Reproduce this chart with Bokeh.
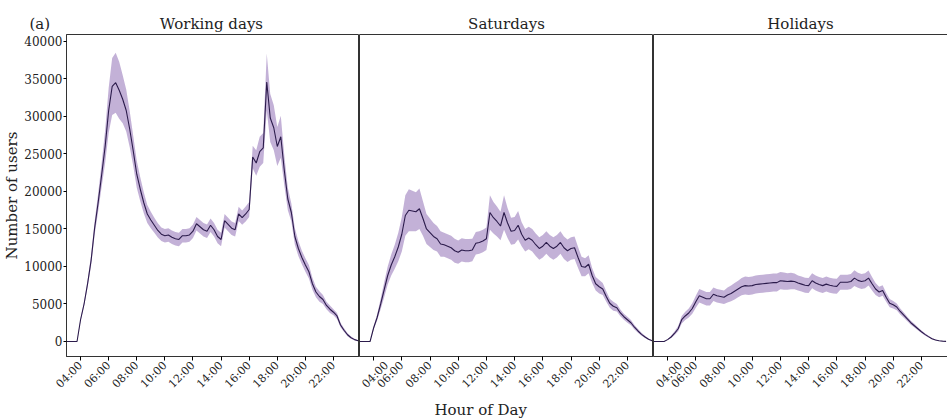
import numpy as np
from math import pi
from bokeh.plotting import figure
from bokeh.layouts import row
from bokeh.models import Range1d, FixedTicker, Title
from bokeh.embed import file_html
from bokeh.resources import INLINE

# time grid (hours of day, 15-minute steps)
hours = np.arange(3, 24, 0.25)

panel_letter = "(a)"
panel_titles = ["Working days", "Saturdays", "Holidays"]
tick_hours = [4, 6, 8, 10, 12, 14, 16, 18, 20, 22]
tick_labels = ["04:00", "06:00", "08:00", "10:00", "12:00", "14:00", "16:00", "18:00", "20:00", "22:00"]
y_ticks = [0, 5000, 10000, 15000, 20000, 25000, 30000, 35000, 40000]

working_mean = [0, 0, 0, 0,
                2900, 5000, 7700, 10800,
                15100, 18500, 22200, 26000,
                30800, 34000, 34500, 33500,
                32300, 30800, 28300, 25400,
                22300, 20300, 18500, 17000,
                16200, 15500, 14800, 14300,
                14100, 14200, 13900, 13700,
                13600, 14100, 14100, 14200,
                14700, 15700, 15300, 14900,
                14700, 15500, 14900, 14000,
                13600, 16100, 15600, 15100,
                14900, 17000, 16500, 17000,
                17600, 24600, 23800, 25300,
                25800, 34600, 29800, 28500,
                26000, 27300, 22800, 19000,
                17200, 14000, 12400, 11200,
                10200, 9300, 7700, 6600,
                6000, 5600, 4800, 4300,
                3900, 3400, 2200, 1500,
                900, 500, 250, 100]
working_spread = [0, 0, 0, 0,
                  200, 300, 500, 700,
                  900, 1200, 1600, 2200,
                  3000, 3800, 4000, 3800,
                  3200, 2800, 2400, 2000,
                  1800, 1600, 1400, 1200,
                  1100, 1000, 950, 900,
                  900, 900, 900, 900,
                  900, 900, 900, 900,
                  900, 900, 900, 900,
                  900, 900, 900, 900,
                  900, 900, 900, 900,
                  900, 950, 950, 1000,
                  1000, 1500, 1700, 2000,
                  2000, 3800, 3200, 3000,
                  2600, 2800, 2000, 1500,
                  1200, 1100, 1000, 900,
                  900, 900, 800, 700,
                  700, 600, 500, 500,
                  400, 400, 300, 250,
                  200, 150, 100, 50]

saturday_mean = [0, 0, 0, 0,
                 1800, 3200, 5000, 6900,
                 8800, 10200, 11300, 12600,
                 14300, 16800, 17500, 17400,
                 17300, 17700, 16400, 15000,
                 14500, 14000, 13700, 13000,
                 12900, 12700, 12500, 12100,
                 11900, 12200, 12100, 12100,
                 12200, 13100, 13200, 13400,
                 13700, 17200, 16500, 16000,
                 15400, 17200, 15800, 14700,
                 14800, 15500, 14300, 13500,
                 13800, 13500, 12900, 12400,
                 12700, 13200, 12700, 12400,
                 12700, 13200, 12500, 12100,
                 12400, 12500, 11200, 10000,
                 9900, 10300, 8800, 7700,
                 7300, 7000, 6000, 5100,
                 4700, 4500, 3800, 3300,
                 2900, 2500, 1900, 1400,
                 950, 600, 300, 100]
saturday_spread = [0, 0, 0, 0,
                   200, 400, 700, 1000,
                   1200, 1400, 1600, 1900,
                   2300, 2700, 2800, 2700,
                   2600, 2700, 2300, 2000,
                   1900, 1800, 1700, 1700,
                   1600, 1600, 1600, 1600,
                   1550, 1550, 1550, 1550,
                   1500, 1500, 1500, 1500,
                   1500, 2300, 2100, 2000,
                   1900, 2300, 2000, 1800,
                   1800, 1900, 1600, 1500,
                   1500, 1500, 1500, 1500,
                   1500, 1500, 1500, 1500,
                   1500, 1500, 1500, 1500,
                   1500, 1500, 1400, 1300,
                   1200, 1200, 1000, 900,
                   900, 800, 700, 600,
                   600, 500, 450, 400,
                   400, 350, 300, 250,
                   200, 150, 100, 50]

holiday_mean = [0, 0, 0, 0,
                250, 600, 1100, 1700,
                2900, 3400, 3800, 4400,
                5300, 6100, 5900, 5700,
                5700, 6300, 6100, 6000,
                5900, 6200, 6400, 6700,
                7000, 7300, 7450, 7400,
                7450, 7600, 7650, 7700,
                7750, 7800, 7850, 7850,
                8100, 8050, 8000, 8050,
                8000, 7800, 7650, 7500,
                7450, 8100, 7800, 7600,
                7450, 7650, 7500, 7400,
                7350, 7900, 7900, 7900,
                8000, 8450, 8150, 8000,
                8100, 8450, 7700, 7000,
                6600, 6800, 5900, 5100,
                4900, 4600, 4000, 3500,
                3000, 2500, 2100, 1700,
                1300, 950, 650, 380,
                200, 100, 50, 20]
holiday_spread = [0, 0, 0, 0,
                  50, 150, 250, 350,
                  500, 550, 600, 700,
                  800, 900, 900, 900,
                  900, 900, 900, 900,
                  900, 1000, 1050, 1100,
                  1100, 1150, 1200, 1200,
                  1200, 1200, 1200, 1200,
                  1200, 1200, 1200, 1200,
                  1150, 1150, 1100, 1100,
                  1050, 1000, 1000, 1000,
                  1000, 1000, 1000, 1000,
                  1000, 1000, 1000, 1000,
                  1000, 1000, 1000, 1000,
                  1000, 1050, 1000, 1000,
                  1000, 1000, 900, 800,
                  700, 700, 600, 550,
                  500, 450, 400, 350,
                  300, 280, 250, 200,
                  180, 150, 120, 80,
                  50, 30, 20, 10]

means = [working_mean, saturday_mean, holiday_mean]
spreads = [working_spread, saturday_spread, holiday_spread]

FONT = "DejaVu Serif"
TXT = "#222222"
LINE_C = "#2b1b4b"
FILL_C = "#6a3d9a"
NBSP = "\u00a0"

figs = []
for i in range(3):
    p = figure(frame_width=293 if i == 0 else 294, frame_height=322,
               x_range=Range1d(3, 23.85), y_range=Range1d(-2000, 40930),
               output_backend="svg", toolbar_location=None,
               y_axis_location="left" if i == 0 else None,
               min_border_top=34, min_border_bottom=63,
               min_border_left=65 if i == 0 else 0,
               min_border_right=1 if i == 2 else 0,
               background_fill_color="white", border_fill_color="white")
    m = np.array(means[i], dtype=float)
    s = np.array(spreads[i], dtype=float)
    p.varea(x=hours, y1=m - s, y2=m + s, fill_color=FILL_C, fill_alpha=0.4)
    p.line(hours, m, line_color=LINE_C, line_width=1.1)

    if i == 0:
        # panel letter and panel name share one title row
        p.title.text = panel_letter + NBSP * 23 + panel_titles[i]
        p.title.align = "left"
        p.title.offset = -37
    else:
        p.title.text = panel_titles[i]
        p.title.align = "center"
    p.title.text_font = FONT
    p.title.text_font_size = "15px"
    p.title.text_font_style = "normal"
    p.title.text_color = TXT
    p.title.standoff = 3

    p.xgrid.visible = False
    p.ygrid.visible = False
    p.outline_line_color = "#333333"
    p.outline_line_width = 1

    xa = p.xaxis[0]
    xa.ticker = FixedTicker(ticks=tick_hours)
    xa.major_label_overrides = {h: lab for h, lab in zip(tick_hours, tick_labels)}
    xa.major_label_orientation = pi / 4
    xa.major_label_text_font = FONT
    xa.major_label_text_font_size = "11px"
    xa.major_label_text_color = TXT
    xa.major_tick_in = 0
    xa.major_tick_out = 4
    xa.minor_tick_line_color = None
    xa.axis_line_color = "#333333"
    xa.major_label_standoff = 3

    if i == 0:
        ya = p.yaxis[0]
        ya.ticker = FixedTicker(ticks=y_ticks)
        ya.major_label_text_font = FONT
        ya.major_label_text_font_size = "12px"
        ya.major_label_text_color = TXT
        ya.major_tick_in = 0
        ya.major_tick_out = 3
        ya.minor_tick_line_color = None
        ya.axis_line_color = "#333333"
        ya.major_label_standoff = 1
        ya.axis_label = "Number of users"
        ya.axis_label_text_font = FONT
        ya.axis_label_text_font_size = "15px"
        ya.axis_label_text_font_style = "normal"
        ya.axis_label_text_color = TXT
        ya.axis_label_standoff = 0
    if i == 1:
        p.add_layout(Title(text="Hour of Day", align="left", offset=75, standoff=1,
                           text_font=FONT, text_font_size="15px",
                           text_font_style="normal", text_color=TXT), "below")
    figs.append(p)

layout = row(*figs, spacing=0)
open("out.html", "w").write(file_html(layout, INLINE))
